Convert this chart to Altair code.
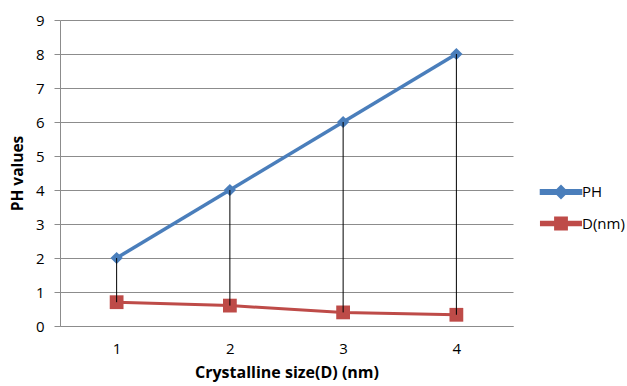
import altair as alt
import pandas as pd

# ---- data ----
sizes = [1, 2, 3, 4]
ph_values = [2, 4, 6, 8]
d_values = [0.7, 0.6, 0.4, 0.33]
series_names = ["PH", "D(nm)"]
series_colors = ["#4A7EBB", "#BE4B48"]
series_widths = [3.5, 3.0]
y_ticks = list(range(0, 10))

wide = pd.DataFrame({"size": sizes, "PH": ph_values, "D": d_values})
long = pd.concat([
    pd.DataFrame({"size": sizes, "series": series_names[0], "value": ph_values}),
    pd.DataFrame({"size": sizes, "series": series_names[1], "value": d_values}),
], ignore_index=True)

FONT = "Open Sans"
GRID = "#8C8C8C"

x_axis = alt.Axis(title="Crystalline size(D) (nm)", labelAngle=0, ticks=False, grid=False,
                  domainColor=GRID, labelPadding=15, titlePadding=8,
                  labelFont=FONT, labelFontSize=15, labelColor="#000000",
                  titleFont=FONT, titleFontSize=16, titleFontWeight="bold", titleColor="#000000")
y_axis = alt.Axis(title="PH values", values=y_ticks, grid=True, gridColor=GRID, domainColor=GRID,
                  tickColor=GRID, tickSize=6, labelPadding=10, titlePadding=10,
                  labelFont=FONT, labelFontSize=15, labelColor="#000000",
                  titleFont=FONT, titleFontSize=15.5, titleFontWeight="bold", titleColor="#000000")
x_scale = alt.Scale(type="point", padding=0.5)
y_scale = alt.Scale(domain=[0, 9], nice=False)
color_scale = alt.Scale(domain=series_names, range=series_colors)

X = alt.X("size:O", scale=x_scale, axis=x_axis)
Y = alt.Y("value:Q", scale=y_scale, axis=y_axis)

lines = alt.Chart(long).mark_line().encode(
    x=X, y=Y,
    color=alt.Color("series:N", scale=color_scale, legend=None),
    strokeWidth=alt.StrokeWidth("series:N", scale=alt.Scale(domain=series_names, range=series_widths), legend=None),
)

ph_points = alt.Chart(long).transform_filter(alt.datum.series == series_names[0]).mark_point(
    shape="diamond", filled=True, size=150, opacity=1, color=series_colors[0]
).encode(x=X, y=Y)

d_points = alt.Chart(long).transform_filter(alt.datum.series == series_names[1]).mark_point(
    shape="square", filled=True, size=190, opacity=1, color=series_colors[1]
).encode(x=X, y=Y)

rules = alt.Chart(wide).mark_rule(color="#000000", strokeWidth=1).encode(
    x=X, y=alt.Y("PH:Q", scale=y_scale, axis=y_axis), y2="D:Q"
)

ph_symbol = "M-2.17,-0.14H2.17V0.14H-2.17Z M0,-0.55L0.55,0L0,0.55L-0.55,0Z"
d_symbol = "M-2.17,-0.14H2.17V0.14H-2.17Z M-0.6,-0.6H0.6V0.6H-0.6Z"

legend = alt.Legend(title=None, orient="none", legendX=490, legendY=161, padding=0,
                    symbolSize=324, rowPadding=8, labelOffset=10, symbolStrokeWidth=0,
                    symbolOpacity=1,
                    labelFont=FONT, labelFontSize=15, labelColor="#000000")

legend_layer = alt.Chart(long).mark_point(filled=True, opacity=0).encode(
    x=X, y=Y,
    color=alt.Color("series:N", scale=color_scale, legend=legend),
    shape=alt.Shape("series:N", scale=alt.Scale(domain=series_names, range=[ph_symbol, d_symbol]), legend=legend),
)

chart = alt.layer(legend_layer, lines, ph_points, d_points, rules).properties(
    width=453, height=306,
    autosize=alt.AutoSizeParams(type="none"),
    padding={"left": 60, "top": 20, "right": 114, "bottom": 60},
    background="#FFFFFF",
).configure_view(stroke=None)

chart.save("out.html", embed_options={"renderer": "svg", "actions": False})
